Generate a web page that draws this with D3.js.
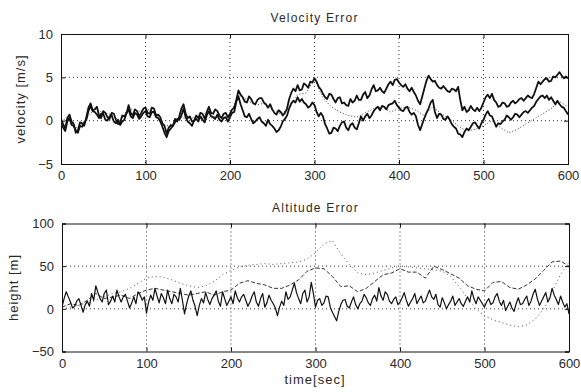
<!DOCTYPE html>
<html>
<head>
<meta charset="utf-8">
<script src="https://cdn.jsdelivr.net/npm/d3@7"></script>
<style>
body{margin:0;background:#fff;}
text{font-family:"Liberation Sans",Arial,sans-serif;fill:#2a2a2a;}
</style>
</head>
<body>
<div id="chart"></div>
<script>

// sample times (sec)
var timeFine = d3.range(0, 601, 2.5);
var timeCoarse = d3.range(0, 601, 10);

var xTicks = [0, 100, 200, 300, 400, 500, 600];
var velTicks = [-5, 0, 5, 10];
var altTicks = [-50, 0, 50, 100];

// velocity error [m/s], every 2.5 s
var velUpper = [0.2,-0.4,-0.9,0.3,0.7,-0.1,-0.4,-1.4,-1.1,-0.2,-0.3,-0.6,0.4,1.5,2.0,1.2,1.3,1.6,0.6,0.3,
    1.1,0.9,0.4,0.2,0.9,0.8,0.1,-0.4,-0.2,0.6,0.5,0.8,1.8,0.9,0.6,1.3,1.1,0.5,0.9,1.4,
    1.5,0.9,0.8,1.5,1.4,0.6,0.7,0.4,-0.3,-0.6,-1.5,-0.8,-0.5,-0.6,0.2,-0.1,0.5,1.4,1.9,0.8,
    0.3,0.5,-0.1,0.0,0.6,0.3,0.9,0.8,0.2,1.0,1.6,0.9,0.8,1.3,1.1,0.6,0.3,0.8,0.9,0.4,
    0.8,1.3,1.5,2.4,3.5,3.0,2.7,2.2,2.1,2.8,2.5,2.0,1.9,2.4,2.6,2.6,2.1,1.9,1.5,1.9,
    1.3,0.9,0.7,1.2,1.0,0.6,0.9,1.4,2.5,3.2,3.7,3.4,4.1,3.5,3.6,4.3,4.1,3.8,4.5,4.4,
    4.9,4.5,3.9,3.6,3.1,2.7,2.5,3.1,3.0,2.5,2.1,2.6,2.7,2.0,2.1,1.8,1.7,2.5,2.1,2.3,
    2.9,2.4,2.4,3.0,3.3,2.6,2.9,3.6,4.1,3.4,3.5,3.8,3.4,3.2,3.7,4.2,4.5,4.1,4.7,4.8,
    4.4,4.1,3.9,4.2,3.7,3.4,3.8,3.3,2.9,2.3,1.9,2.8,3.7,4.6,5.2,4.8,4.5,4.6,4.1,3.8,
    3.7,4.0,3.7,3.4,3.3,3.7,3.6,3.4,3.9,2.4,1.2,1.6,1.0,1.2,1.7,1.3,1.1,1.5,1.1,1.5,
    2.1,2.7,3.0,2.6,3.1,2.4,2.1,1.6,1.7,2.1,2.0,1.6,1.7,2.1,2.3,2.0,2.2,2.5,2.6,2.3,
    2.6,2.9,2.7,2.6,3.1,3.8,4.5,4.2,4.5,4.8,4.9,4.5,4.6,5.1,5.0,5.3,5.6,5.2,4.9,5.1,4.9];

var velLower = [-0.3,-0.8,-1.2,-0.1,0.3,-0.5,-0.6,-1.1,-1.4,-0.6,-0.7,-0.2,0.1,1.1,1.7,1.1,1.0,0.7,0.3,0.8,
    0.8,0.1,0.0,0.5,0.6,-0.1,-0.3,0.1,-0.5,-0.1,0.1,0.9,1.3,0.5,0.3,0.9,0.7,0.2,0.5,0.9,
    1.1,0.5,0.4,1.0,1.0,0.4,0.3,-0.1,-0.7,-1.4,-1.9,-1.2,-0.9,-0.6,-0.2,0.2,0.1,0.6,1.4,0.4,
    -0.1,-0.3,-0.6,0.0,0.2,-0.1,0.5,0.1,-0.2,0.6,1.1,0.5,0.4,0.2,0.7,0.1,-0.1,0.3,0.4,-0.1,
    0.4,0.9,1.0,2.2,2.8,1.9,1.2,0.5,0.4,0.8,0.2,-0.3,-0.1,0.2,0.4,-0.1,-0.3,-0.6,0.1,-0.4,
    -0.6,-0.9,-1.3,-1.1,-0.7,-0.1,0.2,0.6,1.4,2.0,2.3,2.1,2.7,2.2,2.5,2.1,1.9,1.5,1.7,2.1,
    1.8,1.0,0.5,0.9,0.5,-0.4,-0.9,-1.5,-1.4,-0.8,-0.9,-1.2,-0.6,-0.2,-0.1,-0.8,-1.1,-0.5,-0.3,-0.8,
    -1.0,-0.3,0.5,0.0,0.5,0.8,0.3,0.6,1.1,1.4,1.6,1.2,1.7,1.6,1.3,1.8,1.9,2.0,2.3,1.8,
    1.5,1.2,1.1,1.5,1.6,1.0,0.7,0.9,0.5,-0.5,-1.1,-0.4,0.3,0.9,1.4,2.1,2.4,1.0,0.3,0.8,
    0.7,0.2,0.1,0.5,0.1,-0.4,-0.7,-0.9,-1.5,-1.6,-1.9,-1.3,-0.9,-1.1,-0.7,-0.3,-0.2,-0.6,-0.9,-0.3,
    0.1,0.7,1.1,0.6,0.5,-0.1,-0.7,-0.3,-0.4,-0.1,0.1,0.6,0.4,0.1,0.4,0.8,0.7,0.4,0.7,1.0,
    1.1,0.9,1.2,1.5,1.7,2.2,2.5,2.8,2.9,2.6,2.9,2.4,2.7,2.3,1.9,2.3,1.9,1.6,1.5,1.1,0.7];

// velocity error, every 10 s (dotted)
var velDotted = [0.0,0.4,-1.0,0.2,1.4,0.9,0.7,-0.1,1.5,1.0,1.3,1.2,-0.4,-0.7,0.4,0.2,0.4,0.0,0.6,0.1,
    0.6,3.0,2.4,1.8,2.0,1.2,0.8,1.4,3.0,3.2,4.8,2.6,1.6,1.0,0.6,0.4,0.9,1.4,1.6,1.0,
    1.4,1.6,1.2,0.6,1.6,0.8,0.2,-0.6,-1.2,-1.0,-0.6,0.0,-0.8,-1.4,-1.0,-0.4,0.2,0.8,1.4,2.2,1.6];

// altitude error [m], every 2.5 s
var altSolid = [2,12,20,14,8,1,3,9,12,4,-4,5,9,3,18,10,27,19,12,8,
    18,22,5,9,15,8,22,14,8,14,17,9,1,7,14,6,20,16,10,14,
    -5,8,16,10,24,15,7,18,13,6,22,12,6,17,14,8,24,10,-6,6,
    15,21,10,3,-8,4,12,7,19,11,5,12,16,21,9,3,20,12,4,9,
    14,6,21,13,8,14,17,10,3,8,15,20,8,3,12,18,2,7,16,10,
    6,1,-8,2,9,4,20,11,14,22,30,19,12,6,18,22,8,14,31,18,
    2,10,12,4,7,15,14,2,-4,-9,-14,-3,5,10,11,3,1,8,14,5,
    0,6,9,17,13,7,4,12,16,9,25,15,10,20,17,9,6,11,14,5,
    8,13,19,10,3,8,12,18,6,11,15,7,9,16,22,14,11,17,5,2,
    13,7,0,5,9,15,4,8,12,6,3,9,14,8,21,12,6,14,10,6,
    2,8,12,5,7,14,18,9,4,10,-2,3,8,1,-3,6,13,5,6,11,
    15,4,9,17,23,12,4,9,14,19,8,13,24,16,11,5,15,8,2,6,-6];

// altitude error, every 10 s
var altDashed = [2,6,4,10,18,12,14,16,12,18,22,24,22,20,18,16,18,20,16,20,
    22,30,33,30,28,24,24,28,34,44,48,47,38,26,27,20,24,32,40,42,
    47,43,43,36,50,46,41,36,27,23,21,31,32,25,23,28,35,45,55,56,50];

var altDotted = [0,2,4,6,10,14,18,20,24,30,36,38,37,34,30,27,25,27,32,40,
    45,49,51,52,53,52,53,54,55,58,66,76,80,64,52,42,40,42,45,48,
    50,49,48,47,46,44,38,26,12,0,-8,-13,-16,-19,-21,-19,-12,0,20,40,55];


function init(){

    var w = 581;
    var h = 392;

    var svg = d3.select("#chart")
            .append("svg")
            .attr("width", w)
            .attr("height", h);

    panel(svg, {
        top: 34, bottom: 164, left: 61, right: 568,
        domain: [-5, 10], ticks: velTicks,
        title: "Velocity Error", ylabel: "velocity [m/s]", ylabelX: 25,
        series: [
            {t: timeCoarse, v: velDotted, dash: "1,2", width: 1, color: "#444"},
            {t: timeFine, v: velLower, dash: null, width: 1.8, color: "#111"},
            {t: timeFine, v: velUpper, dash: null, width: 1.8, color: "#111"}
        ]
    });

    panel(svg, {
        top: 223.5, bottom: 351.5, left: 62, right: 569,
        domain: [-50, 100], ticks: altTicks,
        title: "Altitude Error", ylabel: "height [m]", ylabelX: 18,
        series: [
            {t: timeCoarse, v: altDotted, dash: "1,3", width: 1, color: "#555"},
            {t: timeCoarse, v: altDashed, dash: "4,2", width: 1, color: "#333"},
            {t: timeFine, v: altSolid, dash: null, width: 1.2, color: "#111"}
        ]
    });

    svg.append("text")
        .attr("x", 315)
        .attr("y", 384)
        .attr("text-anchor", "middle")
        .style("font-size", "13px")
        .style("letter-spacing", "1px")
        .text("time[sec]");
}


function panel(svg, o){

    var xScale = d3.scaleLinear()
            .domain([0, 600])
            .range([o.left, o.right]);

    var yScale = d3.scaleLinear()
            .domain(o.domain)
            .range([o.bottom, o.top]);

    var g = svg.append("g");

    //grid
    g.selectAll(".vgrid")
        .data(xTicks.slice(1, -1))
        .enter().append("line")
        .attr("x1", function(d){return xScale(d);})
        .attr("x2", function(d){return xScale(d);})
        .attr("y1", o.top)
        .attr("y2", o.bottom)
        .style("stroke", "#333")
        .style("stroke-dasharray", "1,3");

    g.selectAll(".hgrid")
        .data(o.ticks.slice(1, -1))
        .enter().append("line")
        .attr("x1", o.left)
        .attr("x2", o.right)
        .attr("y1", function(d){return yScale(d);})
        .attr("y2", function(d){return yScale(d);})
        .style("stroke", "#333")
        .style("stroke-dasharray", "1,3");

    //lines
    var clipId = "clip" + Math.round(o.top);
    g.append("clipPath").attr("id", clipId)
        .append("rect")
        .attr("x", o.left).attr("y", o.top)
        .attr("width", o.right - o.left).attr("height", o.bottom - o.top);

    o.series.forEach(function(s){
        var line = d3.line()
                .x(function(d, i){return xScale(s.t[i]);})
                .y(function(d){return yScale(d);});

        g.append("path")
            .datum(s.v)
            .attr("d", line)
            .attr("clip-path", "url(#" + clipId + ")")
            .style("fill", "none")
            .style("stroke", s.color)
            .style("stroke-width", s.width)
            .style("stroke-linejoin", "round")
            .style("stroke-dasharray", s.dash);
    });

    //axes
    var xAxis = d3.axisBottom(xScale)
            .tickValues(xTicks)
            .tickSize(-4)
            .tickPadding(7);

    g.append("g")
        .attr("transform", "translate(0," + o.bottom + ")")
        .call(xAxis);

    var yAxis = d3.axisLeft(yScale)
            .tickValues(o.ticks)
            .tickSize(-4)
            .tickPadding(8);

    g.append("g")
        .attr("transform", "translate(" + o.left + ",0)")
        .call(yAxis);

    g.append("g")
        .attr("transform", "translate(0," + o.top + ")")
        .call(d3.axisTop(xScale).tickValues(xTicks).tickSize(-4).tickFormat(""));

    g.append("g")
        .attr("transform", "translate(" + o.right + ",0)")
        .call(d3.axisRight(yScale).tickValues(o.ticks).tickSize(-4).tickFormat(""));

    g.selectAll(".domain").style("stroke", "#111");
    g.selectAll(".tick line").style("stroke", "#111");
    g.selectAll(".tick text")
        .style("font-family", "'Liberation Sans',Arial,sans-serif")
        .style("font-size", "13px")
        .style("fill", "#2a2a2a");

    g.append("text")
        .attr("x", (o.left + o.right) / 2)
        .attr("y", o.top - 12)
        .attr("text-anchor", "middle")
        .style("font-size", "12px")
        .style("letter-spacing", "1.2px")
        .text(o.title);

    g.append("text")
        .attr("transform", "translate(" + o.ylabelX + "," + ((o.top + o.bottom) / 2) + ") rotate(-90)")
        .attr("text-anchor", "middle")
        .style("font-size", "13px")
        .style("letter-spacing", "1px")
        .text(o.ylabel);
}

init();
</script>
</body>
</html>
